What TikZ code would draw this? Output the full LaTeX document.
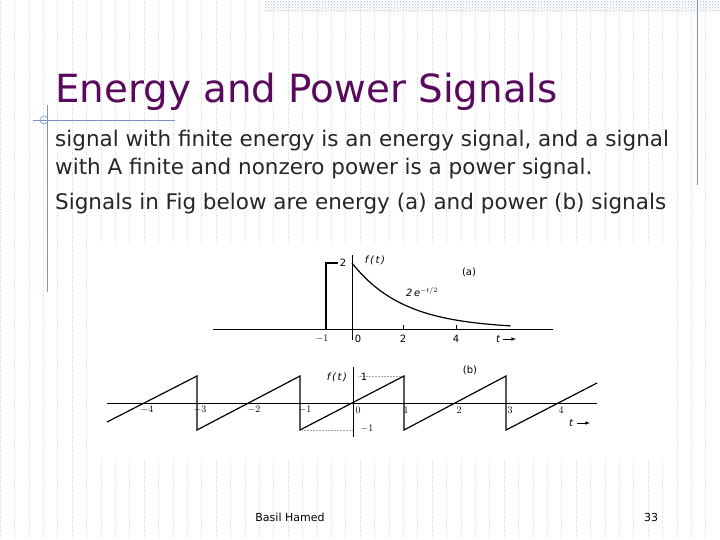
\documentclass[tikz,border=0pt]{standalone}
\usepackage{fontspec}
\setmainfont{DejaVu Sans}
\usetikzlibrary{patterns}
\definecolor{ttl}{HTML}{5A0A5C}
\definecolor{gridc}{HTML}{D8D8D8}
\definecolor{deco}{HTML}{8090C0}
\begin{document}
\begin{tikzpicture}[x=1pt,y=-1pt,
  sig/.style={line width=1.2pt,black},
  ax/.style={line width=1pt,black},
  lab/.style={font=\fontsize{10}{10}\selectfont\rmfamily\itshape,inner sep=0pt},
  num/.style={font=\fontsize{10}{10}\selectfont\rmfamily,inner sep=0pt},
  body/.style={anchor=base west,inner sep=0pt,font=\fontsize{21.5}{21.5}\selectfont,text=black!85}]
\useasboundingbox (0,0) rectangle (720,540);
\fill[white] (0,0) rectangle (720,540);
\draw[gridc,line width=0.5pt,dotted] (0,0) grid[step=14.4] (720,540);
\fill[pattern=crosshatch dots,pattern color=deco!60] (265,0) rectangle (720,12);
\draw[deco,line width=0.8pt] (697,0) -- (697,185);
\draw[deco,line width=0.8pt] (47,105) -- (47,292);
\draw[deco,line width=0.8pt] (33,120) -- (175,120);
\draw[deco,line width=0.6pt] (44,120) circle (4);
\node[anchor=base west,inner sep=0pt,text=ttl,font=\fontsize{38.8}{38.8}\selectfont] (title) at (55,103) {Energy and Power Signals};
\node[body] (l1) at (55,147) {signal with finite energy is an energy signal, and a signal};
\node[body] (l2) at (55,175) {with A finite and nonzero power is a power signal.};
\node[body] (l3) at (55,210) {Signals in Fig below are energy (a) and power (b) signals};
\fill[white] (93,242) rectangle (670,458);
% (a)
\draw[ax] (213,329) -- (553,329);
\draw[ax] (352,255) -- (352,340);
\draw[sig] (326,329) -- (326,263) -- (338,263);
\draw[sig] plot[domain=0:6.1,samples=60,smooth] ({352+26*\x},{329-66*exp(-\x/2)});
\draw[line width=0.5pt] (403,329) -- (403,325) (456,329) -- (456,325);
\node[num] (a2) at (343,263) {2};
\node[lab] (aft) at (375,260) {f\,(\,t\,)};
\node[num] (alab) at (469,272) {(a)};
\node[lab] (aexp) at (422,292) {2\,e$^{-t/2}$};
\node[num] (am1) at (322,339) {$-1$};
\node[num] (a0) at (358,339) {0};
\node[num] (at2) at (403,339) {2};
\node[num] (at4) at (456,339) {4};
\node[lab] (at) at (498,339) {t};
\draw[-latex,line width=0.6pt] (503,339) -- (516,339);
% (b)
\draw[ax] (107,403) -- (597,403);
\draw[ax] (353,367) -- (353,437);
\draw[gray!70,densely dotted,line width=0.5pt] (358,376) -- (404,376) (302,430) -- (353,430);
\draw[sig] (107,422) -- (197,376) -- (197,430) -- (300,376) -- (300,430) -- (404,376) -- (404,430) -- (506,376) -- (506,430) -- (597,383);
\node[lab] (bft) at (337,377) {f\,(\,t\,)};
\node[num] (b1) at (364,377) {1};
\node[num] (bm1) at (367,429) {$-1$};
\node[num] (blab) at (470,370) {(b)};
\foreach \v/\xx in {-4/147,-3/200,-2/254,-1/305,0/358,1/406,2/459,3/510,4/561}{
  \node[num] at (\xx,410) {$\pgfmathprintnumber{\v}$};}
\node[lab] (bt) at (571,423) {t};
\draw[-latex,line width=0.6pt] (577,423) -- (590,423);
\node[anchor=base,inner sep=0pt,font=\fontsize{11}{11}\selectfont] (foot) at (290,521) {Basil Hamed};
\node[anchor=base,inner sep=0pt,font=\fontsize{11}{11}\selectfont] (pg) at (651,521) {33};
\end{tikzpicture}
\end{document}
